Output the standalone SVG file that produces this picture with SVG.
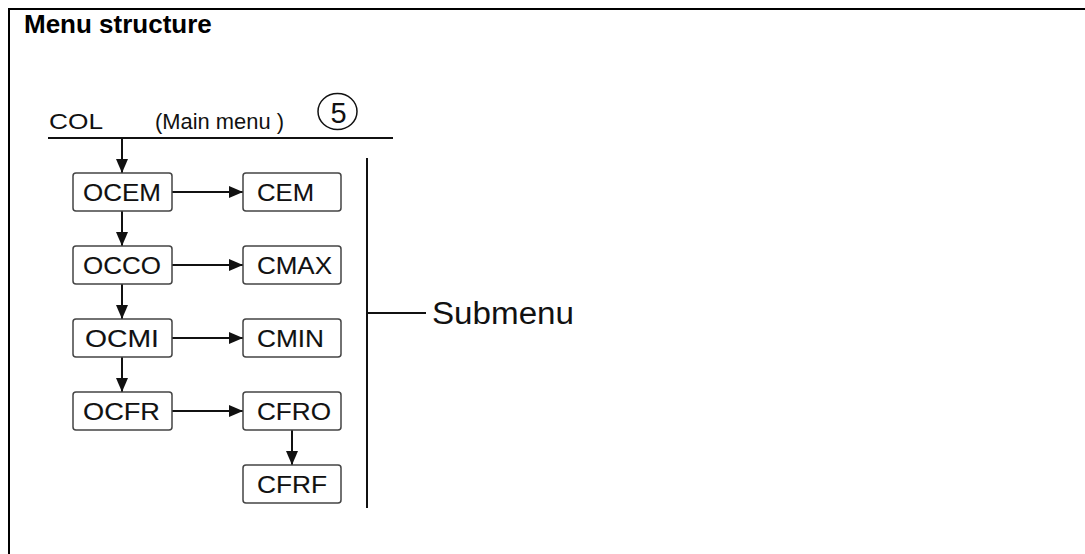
<svg xmlns="http://www.w3.org/2000/svg" width="1085" height="554" viewBox="0 0 1085 554">
<defs>
<marker id="arr" markerUnits="userSpaceOnUse" markerWidth="14" markerHeight="12" refX="14" refY="6" orient="auto">
<path d="M0,0 L14,6 L0,12 z" fill="#111"/>
</marker>
<style>
.box{fill:#fff;stroke:#444;stroke-width:1.5}
.lbl{font-family:"Liberation Sans",Arial,sans-serif;font-size:24px;fill:#111;stroke:#111;stroke-width:0.1}
.ln{stroke:#111;stroke-width:2;fill:none}
.con{stroke:#111;stroke-width:2;fill:none;marker-end:url(#arr)}
</style>
</defs>
<rect width="1085" height="554" fill="#fff"/>
<g id="frame">
<line x1="8" y1="9" x2="1085" y2="9" stroke="#000" stroke-width="2"/>
<line x1="9" y1="8" x2="9" y2="554" stroke="#000" stroke-width="2"/>
<text x="24" y="33" font-family="Liberation Sans,Arial,sans-serif" font-weight="bold" font-size="26" fill="#000">Menu structure</text>
</g>
<g id="main-menu">
<text x="49" y="129" font-family="Liberation Sans,Arial,sans-serif" font-size="22" fill="#111" textLength="54" lengthAdjust="spacingAndGlyphs">COL</text>
<text x="155" y="129" font-family="Liberation Sans,Arial,sans-serif" font-size="22" fill="#111" textLength="129" lengthAdjust="spacingAndGlyphs">(Main menu )</text>
<ellipse cx="337.5" cy="111.5" rx="19.5" ry="18" fill="none" stroke="#111" stroke-width="1.5"/>
<text x="338.5" y="123" text-anchor="middle" font-family="Liberation Sans,Arial,sans-serif" font-size="29" fill="#111">5</text>
<line class="ln" x1="48" y1="138" x2="393" y2="138" stroke-width="1.6"/>
</g>
<g id="connectors">
<line class="con" x1="122" y1="138" x2="122" y2="173"/>
<line class="con" x1="122" y1="211" x2="122" y2="246"/>
<line class="con" x1="122" y1="284" x2="122" y2="319"/>
<line class="con" x1="122" y1="357" x2="122" y2="392"/>
<line class="con" x1="292" y1="430" x2="292" y2="465"/>
<line class="con" x1="172" y1="192" x2="243" y2="192"/>
<line class="con" x1="172" y1="265" x2="243" y2="265"/>
<line class="con" x1="172" y1="338" x2="243" y2="338"/>
<line class="con" x1="172" y1="411" x2="243" y2="411"/>
</g>
<g id="OCEM"><rect class="box" x="73" y="173" width="99" height="38" rx="3"/><text class="lbl" x="83" y="200.5" textLength="78" lengthAdjust="spacingAndGlyphs">OCEM</text></g>
<g id="OCCO"><rect class="box" x="73" y="246" width="99" height="38" rx="3"/><text class="lbl" x="83" y="273.5" textLength="78" lengthAdjust="spacingAndGlyphs">OCCO</text></g>
<g id="OCMI"><rect class="box" x="73" y="319" width="99" height="38" rx="3"/><text class="lbl" x="85" y="346.5" textLength="74" lengthAdjust="spacingAndGlyphs">OCMI</text></g>
<g id="OCFR"><rect class="box" x="73" y="392" width="99" height="38" rx="3"/><text class="lbl" x="83" y="419.5" textLength="77" lengthAdjust="spacingAndGlyphs">OCFR</text></g>
<g id="CEM"><rect class="box" x="243" y="173" width="98" height="38" rx="3"/><text class="lbl" x="257" y="200.5" textLength="57" lengthAdjust="spacingAndGlyphs">CEM</text></g>
<g id="CMAX"><rect class="box" x="243" y="246" width="98" height="38" rx="3"/><text class="lbl" x="257" y="273.5" textLength="75" lengthAdjust="spacingAndGlyphs">CMAX</text></g>
<g id="CMIN"><rect class="box" x="243" y="319" width="98" height="38" rx="3"/><text class="lbl" x="257" y="346.5" textLength="67" lengthAdjust="spacingAndGlyphs">CMIN</text></g>
<g id="CFRO"><rect class="box" x="243" y="392" width="98" height="38" rx="3"/><text class="lbl" x="257" y="419.5" textLength="74" lengthAdjust="spacingAndGlyphs">CFRO</text></g>
<g id="CFRF"><rect class="box" x="243" y="465" width="98" height="38" rx="3"/><text class="lbl" x="257" y="492.5" textLength="70" lengthAdjust="spacingAndGlyphs">CFRF</text></g>
<g id="submenu">
<line class="ln" x1="367" y1="158" x2="367" y2="508"/>
<line class="ln" x1="367" y1="313" x2="426" y2="313"/>
<text x="432" y="324" font-family="Liberation Sans,Arial,sans-serif" font-size="31" fill="#111" textLength="142" lengthAdjust="spacingAndGlyphs">Submenu</text>
</g>
</svg>
